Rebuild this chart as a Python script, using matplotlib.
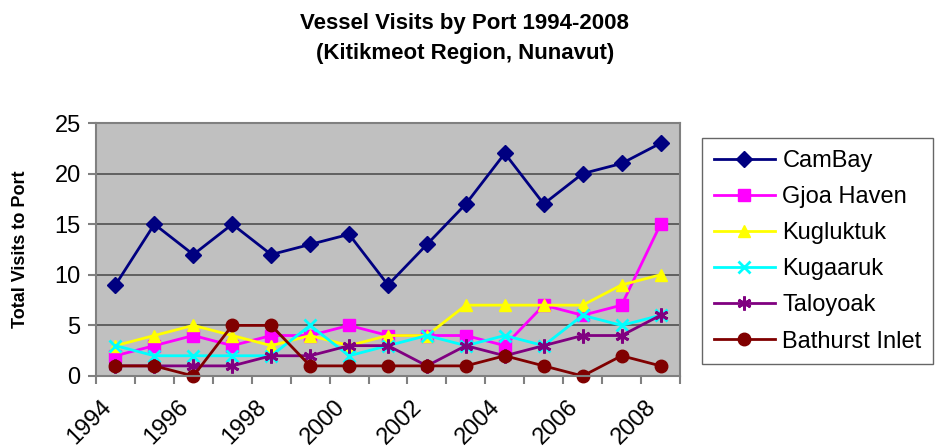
import numpy as np
import matplotlib.pyplot as plt

plt.rcParams['font.family'] = ['Liberation Sans', 'DejaVu Sans']

years = list(range(1994, 2009))
cambay = [9, 15, 12, 15, 12, 13, 14, 9, 13, 17, 22, 17, 20, 21, 23]
gjoa_haven = [2, 3, 4, 3, 4, 4, 5, 4, 4, 4, 3, 7, 6, 7, 15]
kugluktuk = [3, 4, 5, 4, 3, 4, 3, 4, 4, 7, 7, 7, 7, 9, 10]
kugaaruk = [3, 2, 2, 2, 2, 5, 2, 3, 4, 3, 4, 3, 6, 5, 6]
taloyoak = [1, 1, 1, 1, 2, 2, 3, 3, 1, 3, 2, 3, 4, 4, 6]
bathurst = [1, 1, 0, 5, 5, 1, 1, 1, 1, 1, 2, 1, 0, 2, 1]

names = ["CamBay", "Gjoa Haven", "Kugluktuk", "Kugaaruk", "Taloyoak", "Bathurst Inlet"]
series = [cambay, gjoa_haven, kugluktuk, kugaaruk, taloyoak, bathurst]
colors = ["#000080", "#FF00FF", "#FFFF00", "#00FFFF", "#800080", "#800000"]
markers = ["D", "s", "^", "x", (6, 2, 0), "o"]
msizes = [8, 8, 9, 9, 10, 9]

fig = plt.figure(figsize=(9.37, 4.47), dpi=100)
ax = fig.add_axes([96/937, 1-376/447, (680-96)/937, (376-123)/447])
ax.set_facecolor("#C0C0C0")

x = np.arange(len(years))
for s, name, c, m, ms in zip(series, names, colors, markers, msizes):
    ax.plot(x, s, color=c, marker=m, markersize=ms, linewidth=2,
            markeredgewidth=2 if m in ("x", (6, 2, 0)) else 1,
            markeredgecolor=c, label=name, clip_on=False)

ax.set_xlim(-0.5, len(years) - 0.5)
ax.set_ylim(0, 25)
ax.set_yticks([0, 5, 10, 15, 20, 25])
ax.yaxis.grid(True, color="#505050", linewidth=1.2)
ax.set_axisbelow(True)

# category boundaries get the tick marks, labels every other year (shifted left like excel)
ax.set_xticks(np.arange(-0.5, len(years), 1), minor=True)
ax.set_xticks(x[::2] - 0.4)
ax.set_xticklabels([str(y) for y in years[::2]], rotation=45, ha="right",
                   rotation_mode="anchor", fontsize=17)
ax.tick_params(axis="x", which="major", length=0, pad=14)
ax.tick_params(axis="x", which="minor", length=6, color="#808080", width=1.5)
ax.tick_params(axis="y", length=6, color="#808080", width=1.5, labelsize=17, pad=5)

for sp in ax.spines.values():
    sp.set_color("#808080")
    sp.set_linewidth(1.5)

ax.set_ylabel("Total Visits to Port", fontsize=13, fontweight="bold", labelpad=18)

fig.text(0.496, 1-23/447, "Vessel Visits by Port 1994-2008", ha="center", va="center",
         fontsize=16, fontweight="bold")
fig.text(0.496, 1-53/447, "(Kitikmeot Region, Nunavut)", ha="center", va="center",
         fontsize=16, fontweight="bold")

leg = fig.legend(loc="upper left", bbox_to_anchor=(702/937, 1-138/447), fontsize=17,
                 frameon=True, fancybox=False, handlelength=2.6, borderpad=0.5,
                 labelspacing=0.6, handletextpad=0.3, borderaxespad=0)
leg.get_frame().set_edgecolor("#404040")
leg.get_frame().set_linewidth(1)

fig.savefig("out.png", dpi=100)
